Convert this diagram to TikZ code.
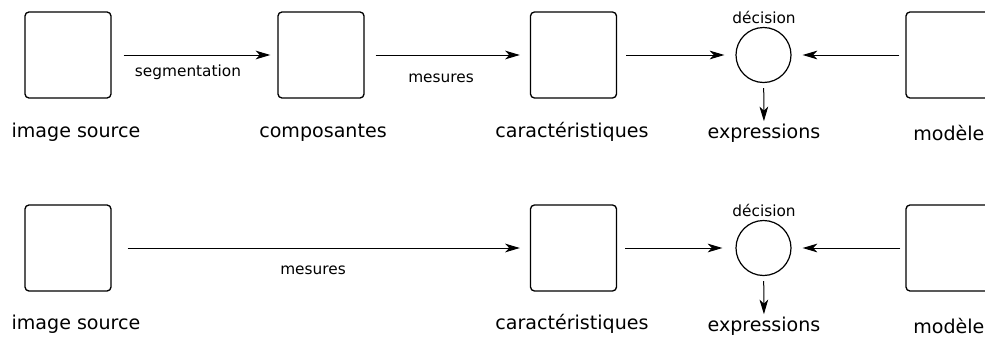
\documentclass[tikz,border=0pt]{standalone}
\usepackage{fontspec}
\setmainfont{DejaVu Sans}
\usepackage{xcolor}
\usetikzlibrary{arrows.meta}

\tikzset{
  etape/.style={draw, rounded corners=3pt, line width=1pt, minimum width=64.5pt, minimum height=64.5pt, inner sep=0pt},
  fusion/.style={draw, circle, line width=0.9pt, minimum size=41.25pt, inner sep=0pt},
  titre/.style={anchor=base, inner sep=0.75pt, font=\fontsize{14.3}{17}\selectfont},
  petit/.style={anchor=base, inner sep=0.75pt, font=\fontsize{11.5}{14}\selectfont},
  fleche/.style={-{Stealth[length=11pt, width=6.5pt, inset=3pt]}, line width=0.75pt}
}

\begin{document}
\begin{tikzpicture}[x=0.75pt,y=0.75pt,yscale=-1,xscale=1]
\useasboundingbox (0,0) rectangle (985,336);

%Shape: boxes, first chain
\node [etape] (src) at (68,55) {};
\node [etape] (comp) at (321,55) {};
\node [etape] (carac) at (573.5,55) {};
\node [fusion] (dec) at (763.5,55) {};
\node [etape] (mod) at (949,55) {};

% Text Node
\node [titre] (lsrc) at (76,137) {image source};
\node [titre] (lcomp) at (323,137) {composantes};
\node [titre] (lcarac) at (572,137) {caractéristiques};
\node [titre] (expr) at (764,138) {expressions};
\node [titre, anchor=base west] (lmod) at (912,140) {modèle};
\node [petit] (ldec) at (764,23) {décision};
\node [petit] (lseg) at (188,76) {segmentation};
\node [petit] (lmes) at (441,82) {mesures};

%Straight Lines
\draw [fleche, shorten <=9pt, shorten >=5.25pt] (src) -- (comp);
\draw [fleche, shorten <=8.25pt, shorten >=7.5pt] (comp) -- (carac);
\draw [fleche, shorten <=6.75pt, shorten >=8.25pt] (carac) -- (dec);
\draw [fleche, shorten <=4.5pt, shorten >=8.25pt] (mod) -- (dec);
\draw [fleche, shorten <=3.75pt, shorten >=0.75pt] (dec) -- (expr);

%Shape: boxes, second chain
\node [etape] (srcb) at (68,248) {};
\node [etape] (caracb) at (573.5,248) {};
\node [fusion] (decb) at (763.5,248) {};
\node [etape] (modb) at (949,248) {};

% Text Node
\node [titre] (lsrcb) at (76,329) {image source};
\node [titre] (lcaracb) at (572,329) {caractéristiques};
\node [titre] (exprb) at (764,331) {expressions};
\node [titre, anchor=base west] (lmodb) at (912,333) {modèle};
\node [petit] (ldecb) at (764,216) {décision};
\node [petit] (lmesb) at (313,274) {mesures};

%Straight Lines
\draw [fleche, shorten <=12pt, shorten >=7.5pt] (srcb) -- (caracb);
\draw [fleche, shorten <=6pt, shorten >=9.75pt] (caracb) -- (decb);
\draw [fleche, shorten <=3.75pt, shorten >=8.25pt] (modb) -- (decb);
\draw [fleche, shorten <=3.75pt, shorten >=0.75pt] (decb) -- (exprb);

\end{tikzpicture}
\end{document}
